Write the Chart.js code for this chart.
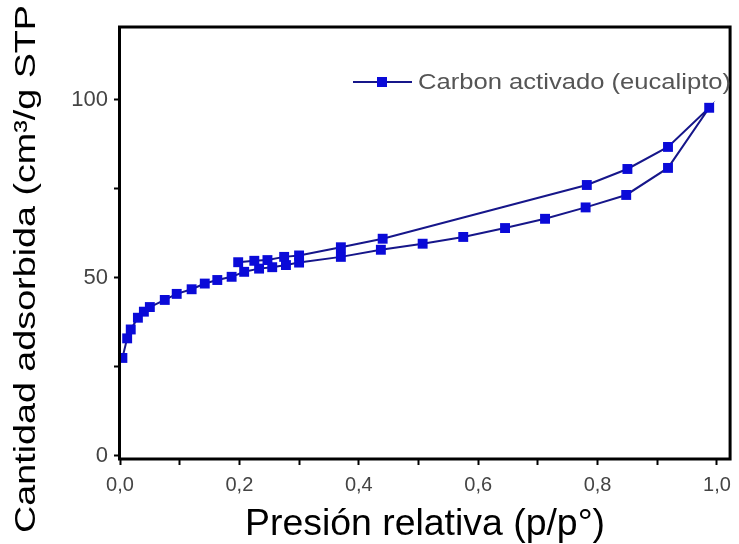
<!DOCTYPE html>
<html>
<head>
<meta charset="utf-8">
<script src="https://cdn.jsdelivr.net/npm/chart.js@4.4.1/dist/chart.umd.min.js"></script>
<style>
  html, body { margin: 0; padding: 0; background: #ffffff; }
  #wrap { width: 739px; height: 544px; position: relative; }
</style>
</head>
<body>
<div id="wrap"><canvas id="c" width="739" height="544"></canvas></div>
<script>
// ---- data ----
const seriesName = "Carbon activado (eucalipto)";
const xTitle = "Presión relativa (p/p°)";
const yTitle = "Cantidad adsorbida (cm³/g STP";

// adsorption branch (lower)
const pressureAds = [0.004, 0.012, 0.018, 0.030, 0.040, 0.050, 0.075, 0.095, 0.120, 0.142, 0.163, 0.187, 0.208, 0.233, 0.255, 0.278, 0.300, 0.370, 0.437, 0.507, 0.575, 0.645, 0.712, 0.780, 0.848, 0.918, 0.987];
const volumeAds   = [27.5, 33.0, 35.5, 38.8, 40.5, 41.8, 43.8, 45.5, 46.8, 48.4, 49.4, 50.3, 51.7, 52.6, 53.0, 53.6, 54.3, 55.9, 57.9, 59.6, 61.5, 64.0, 66.6, 69.8, 73.3, 80.9, 97.8];
// desorption branch (upper)
const pressureDes = [0.918, 0.850, 0.782, 0.440, 0.370, 0.300, 0.275, 0.247, 0.225, 0.198];
const volumeDes   = [86.8, 80.6, 76.1, 61.0, 58.6, 56.3, 55.9, 55.0, 54.8, 54.4];

// tick values
const xTickValues = [0, 0.1, 0.2, 0.3, 0.4, 0.5, 0.6, 0.7, 0.8, 0.9, 1.0];
const xTickLabelValues = [0, 0.2, 0.4, 0.6, 0.8, 1.0];
const yTickValues = [0, 25, 50, 75, 100];
const yTickLabelValues = [0, 50, 100];

// ---- build points ----
const points = [];
pressureAds.forEach((p, i) => points.push({ x: p, y: volumeAds[i] }));
pressureDes.forEach((p, i) => points.push({ x: p, y: volumeDes[i] }));

const LINE_COLOR = '#16168a';
const MARK_COLOR = '#0a0ad8';
const FONT = "'Liberation Sans', Arial, sans-serif";

function drawStretched(ctx, text, x, y, targetW, font, color, rotate, align) {
  ctx.save();
  ctx.translate(x, y);
  if (rotate) ctx.rotate(-Math.PI / 2);
  ctx.font = font;
  const w = ctx.measureText(text).width;
  ctx.scale(targetW / w, 1);
  ctx.fillStyle = color;
  ctx.textAlign = align || 'center';
  ctx.textBaseline = 'alphabetic';
  ctx.fillText(text, 0, 0);
  ctx.restore();
}

const decor = {
  id: 'decor',
  afterDraw(chart) {
    const ctx = chart.ctx;
    const a = chart.chartArea;
    // frame
    ctx.save();
    ctx.strokeStyle = '#000';
    ctx.lineWidth = 3;
    ctx.strokeRect(a.left - 0.5, a.top, a.right - a.left + 0.5, a.bottom - a.top);
    ctx.restore();
    // axis titles
    drawStretched(ctx, xTitle, (a.left + a.right) / 2, 535, 360, `36px ${FONT}`, '#000', false);
    drawStretched(ctx, yTitle, 35, 269, 528, `30px ${FONT}`, '#000', true);
    // legend
    const ly = 82;
    ctx.save();
    ctx.strokeStyle = LINE_COLOR;
    ctx.lineWidth = 2;
    ctx.beginPath();
    ctx.moveTo(353, ly);
    ctx.lineTo(412, ly);
    ctx.stroke();
    ctx.fillStyle = MARK_COLOR;
    ctx.fillRect(377, ly - 5, 10, 10);
    ctx.restore();
    drawStretched(ctx, seriesName, 418, 89, 313, `22px ${FONT}`, '#555', false, 'left');
  }
};

new Chart(document.getElementById('c'), {
  type: 'scatter',
  data: {
    datasets: [{
      label: seriesName,
      data: points,
      showLine: true,
      borderColor: LINE_COLOR,
      borderWidth: 2,
      backgroundColor: MARK_COLOR,
      pointStyle: 'rect',
      pointRadius: 7,
      pointHoverRadius: 7,
      pointBorderWidth: 0,
      pointBackgroundColor: MARK_COLOR,
      tension: 0
    }]
  },
  options: {
    responsive: false,
    animation: false,
    events: [],
    layout: { padding: { top: 27, right: 6, left: 0, bottom: 0 } },
    plugins: { legend: { display: false }, tooltip: { enabled: false } },
    scales: {
      x: {
        type: 'linear',
        min: 0,
        max: 1.022,
        afterBuildTicks: s => { s.ticks = xTickValues.map(v => ({ value: v })); },
        afterFit: s => { s.height = 85; },
        border: { display: false },
        grid: { drawOnChartArea: false, tickLength: 6, tickWidth: 2, tickColor: '#000' },
        ticks: {
          padding: 8,
          color: '#444',
          font: { family: FONT, size: 20 },
          maxRotation: 0,
          autoSkip: false,
          callback: v => xTickLabelValues.some(t => Math.abs(t - v) < 1e-9) ? v.toFixed(1).replace('.', ',') : ''
        }
      },
      y: {
        type: 'linear',
        min: -0.9,
        max: 120.5,
        afterBuildTicks: s => { s.ticks = yTickValues.map(v => ({ value: v })); },
        afterFit: s => { s.width = 120; },
        border: { display: false },
        grid: { drawOnChartArea: false, tickLength: 6, tickWidth: 2, tickColor: '#000' },
        ticks: {
          padding: 6,
          color: '#444',
          font: { family: FONT, size: 22 },
          autoSkip: false,
          callback: v => yTickLabelValues.includes(v) ? String(v) : ''
        }
      }
    }
  },
  plugins: [decor]
});
</script>
</body>
</html>
